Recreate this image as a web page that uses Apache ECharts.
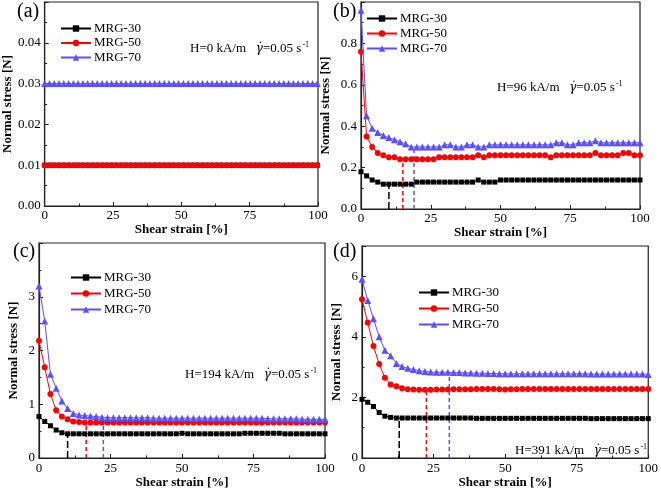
<!DOCTYPE html>
<html><head><meta charset="utf-8">
<script src="https://cdn.jsdelivr.net/npm/echarts@6/dist/echarts.min.js"></script>
<style>html,body{margin:0;padding:0;background:#fff}#c{width:661px;height:493px}</style>
</head><body><div id="c"></div>
<script>
// ---------------- data ----------------
const seriesNames = ['MRG-30', 'MRG-50', 'MRG-70'];
const panelLabels = ['(a)', '(b)', '(c)', '(d)'];
const fieldTexts = ['H=0 kA/m', 'H=96 kA/m', 'H=194 kA/m', 'H=391 kA/m'];
const rateText = '=0.05 s';

const strainA = [0,1.75,3.5,5.25,7,8.75,10.5,12.25,14,15.75,17.5,19.25,21,22.75,24.5,26.25,28,29.75,31.5,33.25,35,36.75,38.5,40.25,42,43.75,45.5,47.25,49,50.75,52.5,54.25,56,57.75,59.5,61.25,63,64.75,66.5,68.25,70,71.75,73.5,75.25,77,78.75,80.5,82.25,84,85.75,87.5,89.25,91,92.75,94.5,96.25,98,99.75];
const a30 = [0.01,0.01,0.01,0.01,0.01,0.01,0.01,0.01,0.01,0.01,0.01,0.01,0.01,0.01,0.01,0.01,0.01,0.01,0.01,0.01,0.01,0.01,0.01,0.01,0.01,0.01,0.01,0.01,0.01,0.01,0.01,0.01,0.01,0.01,0.01,0.01,0.01,0.01,0.01,0.01,0.01,0.01,0.01,0.01,0.01,0.01,0.01,0.01,0.01,0.01,0.01,0.01,0.01,0.01,0.01,0.01,0.01,0.01];
const a50 = [0.01,0.01,0.01,0.01,0.01,0.01,0.01,0.01,0.01,0.01,0.01,0.01,0.01,0.01,0.01,0.01,0.01,0.01,0.01,0.01,0.01,0.01,0.01,0.01,0.01,0.01,0.01,0.01,0.01,0.01,0.01,0.01,0.01,0.01,0.01,0.01,0.01,0.01,0.01,0.01,0.01,0.01,0.01,0.01,0.01,0.01,0.01,0.01,0.01,0.01,0.01,0.01,0.01,0.01,0.01,0.01,0.01,0.01];
const a70 = [0.03,0.03,0.03,0.03,0.03,0.03,0.03,0.03,0.03,0.03,0.03,0.03,0.03,0.03,0.03,0.03,0.03,0.03,0.03,0.03,0.03,0.03,0.03,0.03,0.03,0.03,0.03,0.03,0.03,0.03,0.03,0.03,0.03,0.03,0.03,0.03,0.03,0.03,0.03,0.03,0.03,0.03,0.03,0.03,0.03,0.03,0.03,0.03,0.03,0.03,0.03,0.03,0.03,0.03,0.03,0.03,0.03,0.03];

const strain = [0,2,4,6,8,10,12,14,16,18,20,22,24,26,28,30,32,34,36,38,40,42,44,46,48,50,52,54,56,58,60,62,64,66,68,70,72,74,76,78,80,82,84,86,88,90,92,94,96,98,100];

const b30 = [0.18,0.16,0.14,0.13,0.12,0.12,0.12,0.12,0.12,0.12, 0.13,0.13,0.13,0.13,0.13,0.13,0.13,0.13,0.13,0.13, 0.13,0.14,0.13,0.13,0.13,0.14,0.14,0.14,0.14,0.14, 0.14,0.14,0.14,0.14,0.14,0.14,0.14,0.14,0.14,0.14, 0.14,0.14,0.14,0.14,0.14,0.14,0.14,0.14,0.14,0.14, 0.14];
const b50 = [0.76,0.35,0.30,0.27,0.26,0.25,0.25,0.24,0.24,0.24, 0.24,0.24,0.24,0.24,0.25,0.25,0.25,0.25,0.25,0.25, 0.25,0.26,0.25,0.26,0.26,0.26,0.26,0.26,0.26,0.26, 0.26,0.26,0.26,0.26,0.25,0.26,0.26,0.26,0.26,0.26, 0.26,0.26,0.27,0.26,0.26,0.26,0.26,0.27,0.27,0.26, 0.26];
const b70 = [0.96,0.45,0.39,0.37,0.355,0.345,0.335,0.325,0.315,0.30, 0.30,0.30,0.30,0.30,0.30,0.31,0.31,0.30,0.30,0.31, 0.31,0.30,0.30,0.31,0.31,0.31,0.31,0.31,0.31,0.31, 0.31,0.31,0.31,0.31,0.31,0.32,0.32,0.31,0.31,0.32, 0.32,0.32,0.33,0.32,0.32,0.32,0.32,0.32,0.32,0.32, 0.32];

const c30 = [0.77,0.68,0.60,0.52,0.47,0.45,0.45,0.45,0.45,0.45, 0.45,0.45,0.45,0.45,0.45,0.45,0.45,0.45,0.45,0.45, 0.45,0.45,0.45,0.45,0.45,0.46,0.45,0.45,0.45,0.45, 0.45,0.45,0.45,0.45,0.45,0.45,0.46,0.46,0.46,0.46, 0.46,0.46,0.46,0.45,0.45,0.45,0.45,0.45,0.45,0.45, 0.45];
const c50 = [2.18,1.69,1.19,0.89,0.77,0.72,0.68,0.67,0.66,0.66, 0.66,0.66,0.66,0.66,0.66,0.66,0.66,0.66,0.66,0.66, 0.66,0.66,0.66,0.66,0.66,0.66,0.66,0.66,0.66,0.66, 0.66,0.66,0.66,0.66,0.66,0.66,0.66,0.66,0.66,0.66, 0.66,0.66,0.66,0.66,0.66,0.66,0.66,0.66,0.66,0.66, 0.66];
const c70 = [3.20,2.55,1.56,1.30,1.06,0.92,0.83,0.80,0.79,0.78, 0.77,0.76,0.75,0.75,0.75,0.75,0.75,0.75,0.75,0.75, 0.74,0.74,0.74,0.74,0.74,0.74,0.74,0.74,0.74,0.74, 0.74,0.74,0.74,0.74,0.74,0.74,0.74,0.74,0.74,0.74, 0.73,0.73,0.73,0.73,0.73,0.73,0.72,0.72,0.72,0.72, 0.72];

const d30 = [1.94,1.84,1.70,1.50,1.38,1.34,1.32,1.32,1.32,1.32, 1.32,1.32,1.32,1.32,1.32,1.32,1.32,1.32,1.32,1.32, 1.31,1.31,1.31,1.31,1.31,1.31,1.31,1.31,1.31,1.31, 1.31,1.31,1.31,1.31,1.31,1.31,1.31,1.31,1.31,1.31, 1.30,1.30,1.30,1.30,1.30,1.30,1.30,1.30,1.30,1.30, 1.30];
const d50 = [5.24,4.47,3.70,3.10,2.65,2.43,2.37,2.30,2.27,2.26, 2.25,2.25,2.25,2.26,2.26,2.26,2.27,2.27,2.27,2.27, 2.28,2.28,2.28,2.28,2.27,2.26,2.27,2.27,2.28,2.28, 2.28,2.28,2.28,2.28,2.28,2.28,2.28,2.28,2.28,2.28, 2.28,2.28,2.28,2.28,2.28,2.28,2.28,2.28,2.28,2.28, 2.28];
const d70 = [5.90,5.20,4.60,4.00,3.56,3.38,3.12,3.02,2.96,2.92, 2.88,2.86,2.84,2.83,2.83,2.83,2.82,2.82,2.81,2.81, 2.80,2.80,2.79,2.79,2.78,2.78,2.78,2.78,2.78,2.78, 2.78,2.78,2.78,2.78,2.78,2.78,2.78,2.78,2.78,2.78, 2.77,2.77,2.77,2.77,2.77,2.77,2.77,2.77,2.77,2.77, 2.76];

// critical strain markers (dashed drop lines): strain, stress
const dropB = [[10, 0.12], [15, 0.24], [19, 0.30]];
const dropC = [[10, 0.45], [16.5, 0.66], [22.5, 0.76]];
const dropD = [[13, 1.32], [22.5, 2.25], [30.5, 2.83]];

// y-axis ranges per panel
const yMax = [0.05, 1.0, 4, 7];
const yStep = [0.01, 0.2, 1, 2];
const yDigits = [2, 1, 0, 0];

// ---------------- chart ----------------
const FONT = "'Liberation Serif','Times New Roman',serif";
const colors = ['#000000', '#ff0000', '#5a50ff'];
const symbols = ['rect', 'circle', 'triangle'];
const symSizes = [5, 6, 7];
const dashes = [[7, 3], [4, 3], [4, 3]];

const panels = [
  { x: strainA, ys: [a30, a50, a70], drops: [] },
  { x: strain, ys: [b30, b50, b70], drops: dropB },
  { x: strain, ys: [c30, c50, c70], drops: dropC },
  { x: strain, ys: [d30, d50, d70], drops: dropD },
];
const grids = [
  { left: 43, top: 2, width: 275, height: 204 },
  { left: 361, top: 2, width: 279, height: 207 },
  { left: 39, top: 243, width: 286, height: 215 },
  { left: 362, top: 246, width: 287, height: 212 },
];
const yNameGap = [29, 29, 19, 19];
const xNameGap = [12, 12, 18, 18];
const xLabelMargin = [3, 3, 4, 4];
const legendPos = [
  { left: 55, top: 17, gap: 1.5 },
  { left: 361, top: 7, gap: 2 },
  { left: 65, top: 266, gap: 3 },
  { left: 413, top: 281, gap: 3 },
];
const notePos = [[190, 49], [497, 88], [185, 375], [515, 451]];
const labelPos = [[17, 12], [333, 12], [13, 252], [333, 252]];

const axisLine = { show: true, lineStyle: { color: '#222', width: 1.2 } };
const xAxis = [], yAxis = [], series = [], legend = [], graphic = [];

panels.forEach((p, i) => {
  xAxis.push({
    type: 'value', gridIndex: i, min: 0, max: 100, interval: 25,
    name: 'Shear strain [%]', nameLocation: 'middle', nameGap: xNameGap[i],
    nameTextStyle: { fontFamily: FONT, fontWeight: 'bold', fontSize: 13, color: '#000' },
    axisLine, axisTick: { inside: true, length: 4, lineStyle: { color: '#222' } },
    minorTick: { show: true, splitNumber: 2, length: 2.5, lineStyle: { color: '#222' } },
    splitLine: { show: false },
    axisLabel: { fontFamily: FONT, fontSize: 13, color: '#000', margin: xLabelMargin[i] },
  });
  yAxis.push({
    type: 'value', gridIndex: i, min: 0, max: yMax[i], interval: yStep[i],
    name: 'Normal stress [N]', nameLocation: 'middle', nameGap: yNameGap[i],
    nameTextStyle: { fontFamily: FONT, fontWeight: 'bold', fontSize: 13, color: '#000' },
    axisLine, axisTick: { inside: true, length: 4, lineStyle: { color: '#222' } },
    minorTick: { show: true, splitNumber: 2, length: 2.5, lineStyle: { color: '#222' } },
    splitLine: { show: false },
    axisLabel: { fontFamily: FONT, fontSize: 13, color: '#000', margin: 4, showMaxLabel: false,
      formatter: v => v.toFixed(yDigits[i]) },
  });
  p.ys.forEach((ys, k) => {
    series.push({
      type: 'line', name: seriesNames[k], xAxisIndex: i, yAxisIndex: i,
      data: p.x.map((xv, j) => [xv, ys[j]]),
      symbol: symbols[k], symbolSize: symSizes[k], showSymbol: true,
      lineStyle: { color: colors[k], width: 1 },
      itemStyle: { color: colors[k] },
      animation: false, z: 3 + k,
    });
  });
  p.drops.forEach((d, k) => {
    series.push({
      type: 'line', name: 'drop-' + i + '-' + k, xAxisIndex: i, yAxisIndex: i,
      data: [[d[0], 0], [d[0], d[1]]], showSymbol: false, symbol: 'none',
      lineStyle: { color: colors[k], width: 1.5, type: dashes[k] },
      animation: false, silent: true, z: 2,
    });
  });
  legend.push({
    data: seriesNames, orient: 'vertical', left: legendPos[i].left, top: legendPos[i].top,
    itemWidth: 30, itemHeight: 8, itemGap: legendPos[i].gap, selectedMode: false,
    textStyle: { fontFamily: FONT, fontSize: 13, color: '#000', padding: [0, 0, 0, -2] },
  });
  graphic.push({
    type: 'text', x: labelPos[i][0], y: labelPos[i][1],
    style: { text: panelLabels[i], font: '20px ' + FONT, fill: '#000', verticalAlign: 'middle' },
  });
  graphic.push({
    type: 'text', x: notePos[i][0], y: notePos[i][1],
    style: {
      text: '{n|' + fieldTexts[i] + '   }{g|\u03B3\u0307}{n|' + rateText + '}{s|-1}',
      verticalAlign: 'middle', fill: '#000',
      rich: {
        n: { fontFamily: FONT, fontSize: 13, fill: '#000', lineHeight: 16 },
        g: { fontFamily: "'DejaVu Serif', serif", fontSize: 12, fontStyle: 'italic', fill: '#000', lineHeight: 16 },
        s: { fontFamily: FONT, fontSize: 8, fill: '#000', verticalAlign: 'top', lineHeight: 16, padding: [0, 0, 6, 1] },
      },
    },
  });
});

const chart = echarts.init(document.getElementById('c'), null, { renderer: 'canvas' });
chart.setOption({
  backgroundColor: '#fff',
  animation: false,
  grid: grids.map(g => Object.assign({ show: true, borderColor: '#222', borderWidth: 1.2, backgroundColor: 'transparent' }, g)),
  xAxis, yAxis, series, legend, graphic,
});
</script></body></html>
